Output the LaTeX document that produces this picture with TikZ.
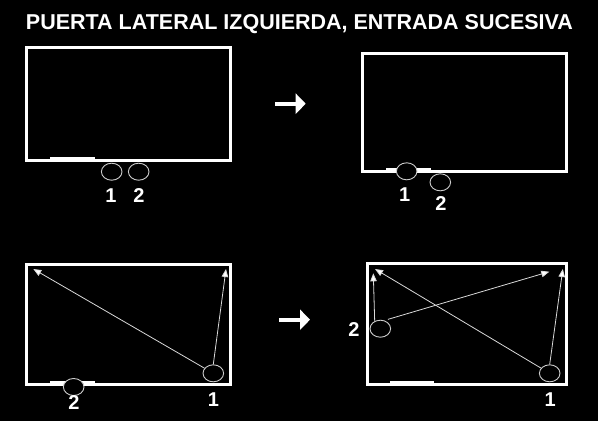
\documentclass[tikz,border=0pt]{standalone}
\usepackage{fontspec}
\setmainfont{Liberation Sans}
\usetikzlibrary{arrows.meta,shapes.geometric}
\begin{document}
\begin{tikzpicture}[x=1pt,y=-1pt,
  room/.style={draw=white,line width=3pt},
  door/.style={draw=white,line width=3pt},
  person/.style={ellipse,draw=white!80!black,line width=0.9pt,fill=black,minimum width=20.6pt,minimum height=17pt,inner sep=0pt},
  num/.style={text=white,font=\bfseries\fontsize{20}{20}\selectfont,inner sep=0pt,anchor=base},
  path/.style={draw=white!85!black,line width=0.8pt,-{Triangle[length=8pt,width=6.5pt,fill=white]}},
  bigarrow/.style={draw=white,line width=4pt,-{Triangle[length=10pt,width=20pt]}}]
\useasboundingbox (0,0) rectangle (598,421);
\fill[black] (0,0) rectangle (598,421);
\node[text=white,font=\bfseries\fontsize{21.5}{21.5}\selectfont,inner sep=0pt,anchor=base] (title) at (299.5,29) {PUERTA LATERAL IZQUIERDA, ENTRADA SUCESIVA};

% top-left
\draw[room] (26.5,47.5) rectangle (230.5,160.5);
\draw[door] (50,158.5) -- (95,158.5);
\node[person] (a1) at (111.7,171.7) {};
\node[person] (a2) at (138.7,171.7) {};
\node[num] (la1) at (111,202.3) {1};
\node[num] (la2) at (139,202.3) {2};

% top arrow
\coordinate (t1) at (275,103.7);
\coordinate (t2) at (305.7,103.7);
\draw[bigarrow] (t1) -- (t2);

% top-right
\draw[room] (362.5,53.5) rectangle (566.5,171.2);
\draw[door] (386,169) -- (430.7,169);
\node[person] (b1) at (406.7,171.3) {};
\node[person] (b2) at (440.3,182.3) {};
\node[num] (lb1) at (404.7,201) {1};
\node[num] (lb2) at (441,210) {2};

% bottom-left
\draw[room] (26.8,264.2) rectangle (230.2,384.2);
\draw[door] (50,382) -- (95,382);
\node[person] (c2) at (73.7,387) {};
\node[person] (c1) at (213.3,373.3) {};
\node[num] (lc2) at (74,409.3) {2};
\node[num] (lc1) at (213.5,406.7) {1};
\coordinate (c1end) at (33.3,269);
\coordinate (c1up) at (226,269);
\draw[path] (c1) -- (c1end);
\draw[path] (c1.north) -- (c1up);

% bottom arrow
\coordinate (u1) at (279,319.7);
\coordinate (u2) at (310,319.7);
\draw[bigarrow] (u1) -- (u2);

% bottom-right
\draw[room] (367.2,263.8) rectangle (566.5,384.2);
\draw[door] (390,382) -- (434,382);
\node[person] (d2) at (380.3,328.7) {};
\node[person] (d1) at (549.7,373.3) {};
\node[num] (ld2) at (354,336) {2};
\node[num] (ld1) at (550.3,406.7) {1};
\coordinate (d2up) at (373.3,273.3);
\coordinate (d2right) at (549.3,271.7);
\coordinate (d1left) at (375,269);
\coordinate (d1up) at (562.8,269);
\draw[path] (d2.north west) ++(2,-1) -- (d2up);
\draw[path] (d2.north east) ++(0,-3) -- (d2right);
\draw[path] (d1) -- (d1left);
\draw[path] (d1.north) -- (d1up);
\end{tikzpicture}
\end{document}
